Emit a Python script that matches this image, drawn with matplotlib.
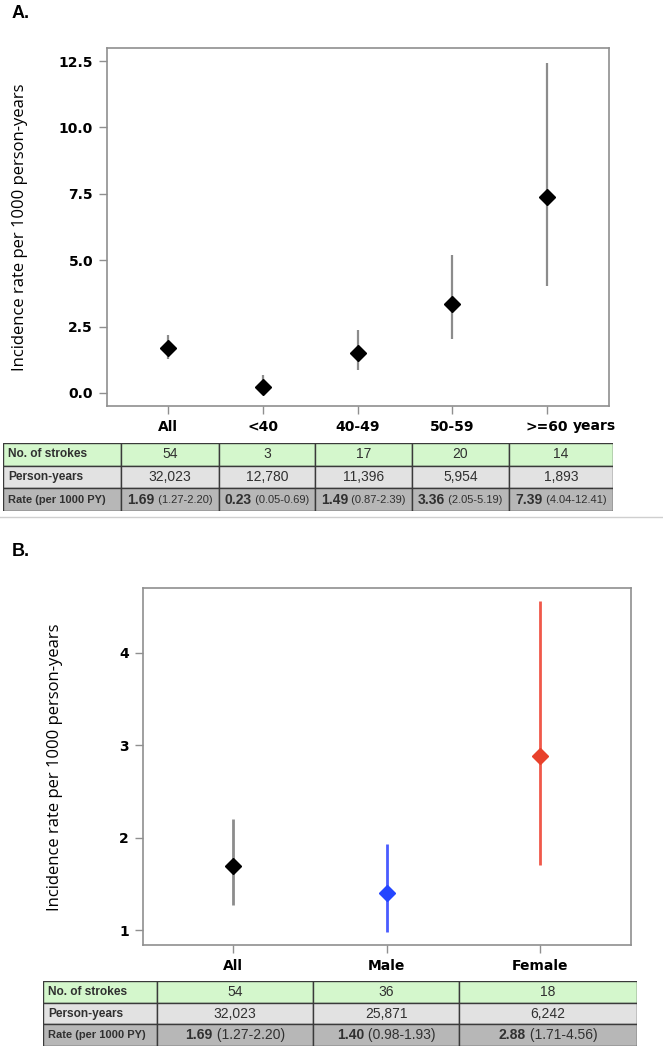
import matplotlib
matplotlib.use("Agg")
import matplotlib.pyplot as plt
from matplotlib.patches import Rectangle
from matplotlib.lines import Line2D

# ---------------- data ----------------
age_groups = ["All", "<40", "40-49", "50-59", ">=60"]
age_rate = [1.69, 0.23, 1.49, 3.36, 7.39]
age_lo = [1.27, 0.05, 0.87, 2.05, 4.04]
age_hi = [2.20, 0.69, 2.39, 5.19, 12.41]
age_strokes = ["54", "3", "17", "20", "14"]
age_py = ["32,023", "12,780", "11,396", "5,954", "1,893"]

sex_groups = ["All", "Male", "Female"]
sex_rate = [1.69, 1.40, 2.88]
sex_lo = [1.27, 0.98, 1.71]
sex_hi = [2.20, 1.93, 4.56]
sex_strokes = ["54", "36", "18"]
sex_py = ["32,023", "25,871", "6,242"]
sex_line_colors = ["#8c8c8c", "#4a5cff", "#f0584a"]
sex_marker_colors = ["#000000", "#2446ff", "#e8412b"]

row_labels = ["No. of strokes", "Person-years", "Rate (per 1000 PY)"]
yticks_a = [0.0, 2.5, 5.0, 7.5, 10.0, 12.5]
yticks_b = [1, 2, 3, 4]

# ---------------- figure ----------------
W, H = 663, 1050
fig = plt.figure(figsize=(W / 100, H / 100), dpi=100)
AX_FONT = ["Open Sans", "DejaVu Sans"]
TICK_FONT = ["DejaVu Sans"]
TB_FONT = ["Liberation Sans Narrow", "Liberation Sans", "DejaVu Sans"]
GREEN, LGRAY, DGRAY = "#d4f7cc", "#e2e2e2", "#b7b7b7"
TXT = "#303030"


def fig_axes(x0, y0, x1, y1):
    return fig.add_axes([x0 / W, 1 - y1 / H, (x1 - x0) / W, (y1 - y0) / H])


def style_axes(ax):
    for s in ax.spines.values():
        s.set_color("#8f8f8f")
        s.set_linewidth(1.2)
    ax.tick_params(axis="both", color="#8f8f8f", length=6, width=1.0,
                   labelsize=10, labelcolor="black")
    for lab in ax.get_xticklabels() + ax.get_yticklabels():
        lab.set_fontfamily(TICK_FONT)
        lab.set_fontweight("bold")


MS = 7.8

# ----- panel A -----
axA = fig_axes(107, 48, 609, 406)
xa = list(range(1, len(age_groups) + 1))
for x, lo, hi in zip(xa, age_lo, age_hi):
    axA.plot([x, x], [lo, hi], color="#8c8c8c", lw=1.6, solid_capstyle="butt", zorder=2)
axA.plot(xa, age_rate, linestyle="none", marker="D", markersize=MS,
         color="black", zorder=3)
axA.set_xlim(0.356, 5.654)
axA.set_ylim(-0.49, 12.99)
axA.set_xticks(xa)
axA.set_xticklabels(age_groups)
axA.set_yticks(yticks_a)
axA.set_yticklabels([f"{v:.1f}" for v in yticks_a])
axA.tick_params(axis="x", pad=4)
axA.tick_params(axis="y", pad=4)
style_axes(axA)
fig.text(20 / W, 1 - 227 / H, "Incidence rate per 1000 person-years", rotation=90,
         ha="center", va="center", fontsize=12, family=AX_FONT)
fig.text(594 / W, 1 - 426 / H, "years", ha="center", va="center", fontsize=10,
         fontweight="bold", family=TICK_FONT)
fig.text(12 / W, 1 - 13 / H, "A.", ha="left", va="center", fontsize=13,
         fontweight="bold", family=["Liberation Sans", "DejaVu Sans"])

# ----- panel B -----
axB = fig_axes(143, 588, 631, 945)
xb = list(range(1, len(sex_groups) + 1))
for x, lo, hi, c in zip(xb, sex_lo, sex_hi, sex_line_colors):
    axB.plot([x, x], [lo, hi], color=c, lw=2.0, solid_capstyle="butt", zorder=2)
for x, r, c in zip(xb, sex_rate, sex_marker_colors):
    axB.plot([x], [r], linestyle="none", marker="D", markersize=MS, color=c, zorder=3)
axB.set_xlim(0.414, 3.59)
axB.set_ylim(0.84, 4.70)
axB.set_xticks(xb)
axB.set_xticklabels(sex_groups)
axB.set_yticks(yticks_b)
axB.tick_params(axis="x", pad=4)
axB.tick_params(axis="y", pad=4)
style_axes(axB)
fig.text(55 / W, 1 - 767 / H, "Incidence rate per 1000 person-years", rotation=90,
         ha="center", va="center", fontsize=12, family=AX_FONT)
fig.text(12 / W, 1 - 552 / H, "B.", ha="left", va="center", fontsize=13,
         fontweight="bold", family=["Liberation Sans", "DejaVu Sans"])

# separator line
fig.add_artist(Line2D([0, 1], [1 - 517 / H, 1 - 517 / H], color="#cfcfcf", lw=1.0,
                      transform=fig.transFigure))

# ----- tables -----
renderer = fig.canvas.get_renderer()


def draw_table(x0, y0, x1, y1, col_w, strokes, py, rates, los, his, ci_small):
    ax = fig_axes(x0, y0, x1, y1)
    ax.set_axis_off()
    total = sum(col_w)
    ax.set_xlim(0, total)
    ax.set_ylim(3, 0)
    edges = [0]
    for w in col_w:
        edges.append(edges[-1] + w)
    fills = [GREEN, LGRAY, DGRAY]
    for r in range(3):
        for c in range(len(col_w)):
            ax.add_patch(Rectangle((edges[c], r), col_w[c], 1, facecolor=fills[r],
                                   edgecolor="#3a3a3a", lw=1.0))
    for r, lab in enumerate(row_labels):
        ax.text(edges[0] + 5, r + 0.5, lab, ha="left", va="center",
                fontsize=8.6 if r < 2 else 8.0, fontweight="bold", color=TXT,
                family=TB_FONT)
    for c in range(len(strokes)):
        cx = (edges[c + 1] + edges[c + 2]) / 2
        ax.text(cx, 0.5, strokes[c], ha="center", va="center", fontsize=10,
                color=TXT, family=TB_FONT)
        ax.text(cx, 1.5, py[c], ha="center", va="center", fontsize=10,
                color=TXT, family=TB_FONT)
        # rate: bold value + CI
        t1 = ax.text(0, 2.5, f"{rates[c]:.2f}", ha="left", va="center", fontsize=10,
                     fontweight="bold", color=TXT, family=TB_FONT)
        t2 = ax.text(0, 2.5, f" ({los[c]:.2f}-{his[c]:.2f})", ha="left", va="center",
                     fontsize=8 if ci_small else 10, color=TXT, family=TB_FONT)
        w1 = t1.get_window_extent(renderer).width
        w2 = t2.get_window_extent(renderer).width
        px_per_unit = (x1 - x0) / total
        left = cx - (w1 + w2) / 2 / px_per_unit
        t1.set_x(left)
        t2.set_x(left + w1 / px_per_unit)
    return ax


draw_table(3, 443, 613, 511, [118, 98, 96, 97, 97, 104],
           age_strokes, age_py, age_rate, age_lo, age_hi, ci_small=True)
draw_table(43, 981, 637, 1046, [114, 156, 146, 178],
           sex_strokes, sex_py, sex_rate, sex_lo, sex_hi, ci_small=False)

fig.savefig("out.png", dpi=100)
